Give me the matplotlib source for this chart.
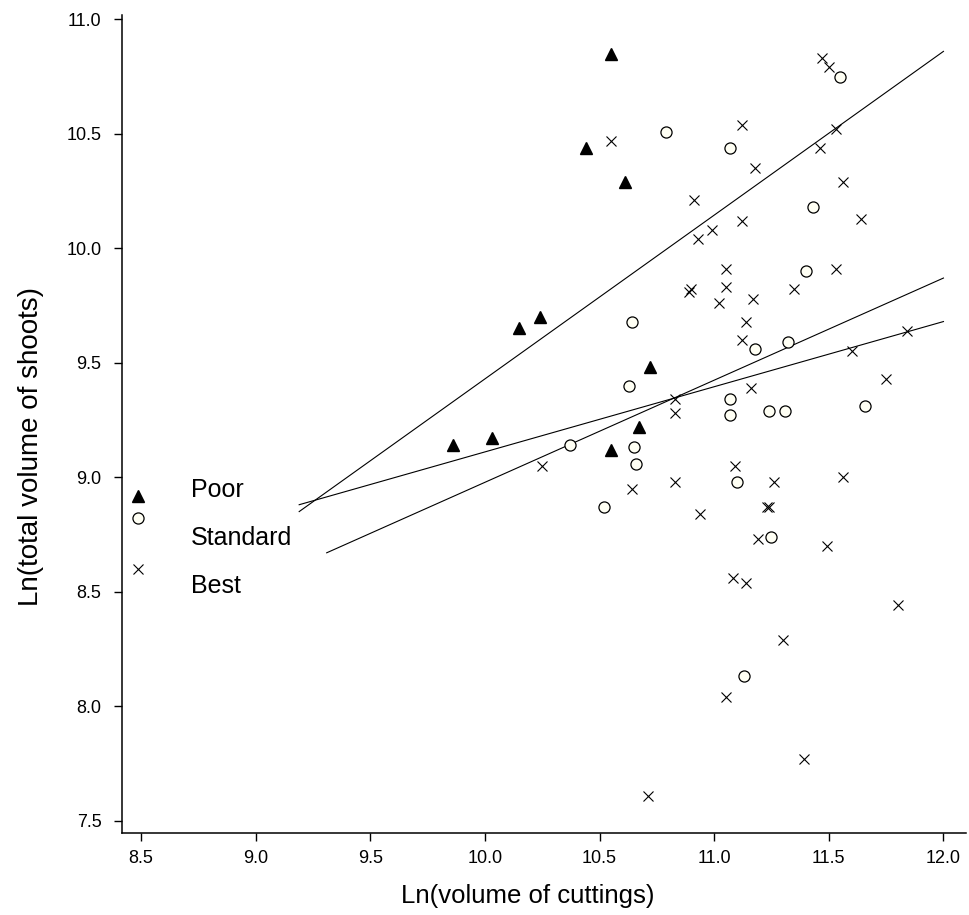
import numpy as np
import matplotlib
matplotlib.use('Agg')
import matplotlib.pyplot as plt

plt.rcParams['font.family'] = ['Liberation Sans', 'DejaVu Sans']

# Poor (filled triangles)
poor_x = [10.55, 10.44, 10.61, 10.15, 10.24, 10.72, 9.86, 10.03, 10.67, 10.55]
poor_y = [10.85, 10.44, 10.29, 9.65, 9.70, 9.48, 9.14, 9.17, 9.22, 9.12]

# Standard (open circles)
std_x = [11.55, 10.79, 11.07, 11.43, 11.40, 10.64, 11.18, 11.32, 10.63, 11.07, 11.07,
         11.24, 11.31, 11.66, 10.37, 10.65, 10.66, 11.10, 10.52, 11.25, 11.13]
std_y = [10.75, 10.51, 10.44, 10.18, 9.90, 9.68, 9.56, 9.59, 9.40, 9.34, 9.27,
         9.29, 9.29, 9.31, 9.14, 9.13, 9.06, 8.98, 8.87, 8.74, 8.13]

# Best (crosses)
best_x = [11.47, 11.50, 11.12, 11.53, 10.55, 11.46, 11.18, 11.56, 10.91, 11.64,
          11.12, 10.99, 10.93, 11.05, 11.53, 10.89, 10.90, 11.05, 11.17, 11.35,
          11.02, 11.14, 11.12, 11.84, 11.60, 11.16, 11.75, 10.83, 10.83, 10.25,
          11.09, 11.56, 10.83, 11.26, 10.64, 10.94, 11.23, 11.24, 11.19, 11.49,
          11.08, 11.14, 11.80, 11.30, 11.05, 11.39, 10.71]
best_y = [10.83, 10.79, 10.54, 10.52, 10.47, 10.44, 10.35, 10.29, 10.21, 10.13,
          10.12, 10.08, 10.04, 9.91, 9.91, 9.81, 9.82, 9.83, 9.78, 9.82,
          9.76, 9.68, 9.60, 9.64, 9.55, 9.39, 9.43, 9.34, 9.28, 9.05,
          9.05, 9.00, 8.98, 8.98, 8.95, 8.84, 8.87, 8.87, 8.73, 8.70,
          8.56, 8.54, 8.44, 8.29, 8.04, 7.77, 7.61]

# fitted lines: start x, start y, end x, end y (Poor, Standard, Best)
fit_x0 = [9.19, 9.31, 9.19]
fit_y0 = [8.85, 8.67, 8.88]
fit_x1 = [12.0, 12.0, 12.0]
fit_y1 = [10.86, 9.87, 9.68]

group_labels = ['Poor', 'Standard', 'Best']

fig = plt.figure(figsize=(9.69, 9.15), dpi=100)
ax = fig.add_axes([0.1256, 0.0893, 0.8717, 0.8946])

for x0, y0, x1, y1 in zip(fit_x0, fit_y0, fit_x1, fit_y1):
    ax.plot([x0, x1], [y0, y1], color='black', lw=0.8)

ax.plot(best_x, best_y, 'x', color='black', ms=7.5, mew=0.8, ls='none')
ax.plot(std_x, std_y, 'o', mfc='#fffff4', mec='black', ms=8, mew=0.9, ls='none')
ax.plot(poor_x, poor_y, '^', color='black', ms=9, ls='none')

# hand-placed key inside the plot
ax.plot(8.485, 8.918, '^', color='black', ms=9, clip_on=False)
ax.plot(8.485, 8.822, 'o', mfc='#fffff4', mec='black', ms=8, mew=0.9, clip_on=False)
ax.plot(8.485, 8.598, 'x', color='black', ms=7.5, mew=0.8, clip_on=False)
for lab, ty in zip(group_labels, [8.945, 8.735, 8.527]):
    ax.text(8.717, ty, lab, fontsize=18, va='center', ha='left')

ax.set_xlim(8.416, 12.1)
ax.set_ylim(7.445, 11.02)
ax.set_xticks(np.arange(8.5, 12.01, 0.5))
ax.set_yticks(np.arange(7.5, 11.01, 0.5))
ax.xaxis.set_major_formatter(matplotlib.ticker.FormatStrFormatter('%.1f'))
ax.yaxis.set_major_formatter(matplotlib.ticker.FormatStrFormatter('%.1f'))

for s in ['top', 'right']:
    ax.spines[s].set_visible(False)
for s in ['left', 'bottom']:
    ax.spines[s].set_linewidth(1.1)
ax.tick_params(direction='out', length=6, width=1.0, labelsize=13)
ax.tick_params(axis='x', pad=6)
ax.tick_params(axis='y', pad=8.5)

ax.set_xlabel('Ln(volume of cuttings)', fontsize=18.5, labelpad=12, x=0.481)
ax.set_ylabel('Ln(total volume of shoots)', fontsize=20, labelpad=16, y=0.472)

plt.savefig('out.png', dpi=100)
